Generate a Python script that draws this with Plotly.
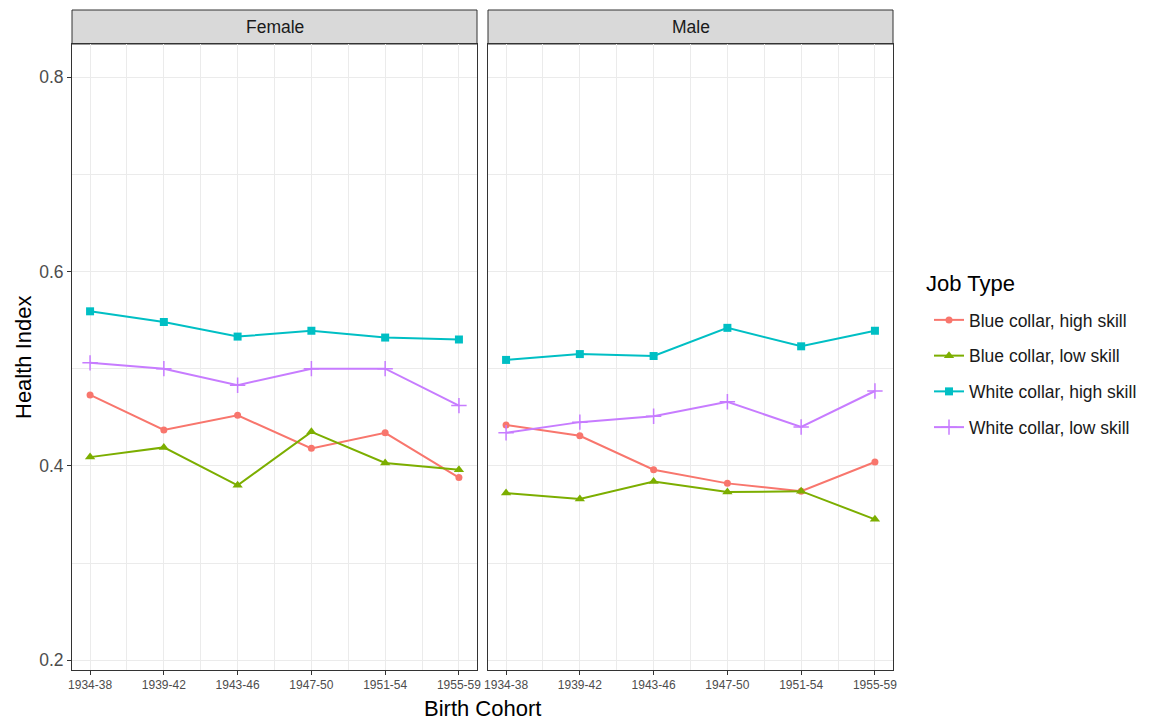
import plotly.graph_objects as go

cohorts = ["1934-38", "1939-42", "1943-46", "1947-50", "1951-54", "1955-59"]
panels = ["Female", "Male"]
series_names = ["Blue collar, high skill", "Blue collar, low skill",
                "White collar, high skill", "White collar, low skill"]

female_blue_high = [0.473, 0.437, 0.452, 0.418, 0.434, 0.388]
female_blue_low = [0.409, 0.419, 0.380, 0.435, 0.403, 0.396]
female_white_high = [0.559, 0.548, 0.533, 0.539, 0.532, 0.530]
female_white_low = [0.506, 0.500, 0.483, 0.500, 0.500, 0.462]

male_blue_high = [0.442, 0.431, 0.396, 0.382, 0.374, 0.404]
male_blue_low = [0.372, 0.366, 0.384, 0.373, 0.374, 0.345]
male_white_high = [0.509, 0.515, 0.513, 0.542, 0.523, 0.539]
male_white_low = [0.434, 0.445, 0.451, 0.466, 0.440, 0.477]

colors = ["#F8766D", "#7CAE00", "#00BFC4", "#C77CFF"]
symbols = ["circle", "triangle-up", "square", "cross-thin"]
sizes = [7, 9, 8, 11]

data = {
    "Female": [female_blue_high, female_blue_low, female_white_high, female_white_low],
    "Male": [male_blue_high, male_blue_low, male_white_high, male_white_low],
}

FONT = "Liberation Sans, Arial"
xpos = list(range(1, len(cohorts) + 1))
fig = go.Figure()
for pi, panel in enumerate(panels):
    xa = "x" if pi == 0 else "x2"
    ya = "y" if pi == 0 else "y2"
    for si, name in enumerate(series_names):
        fig.add_trace(go.Scatter(
            x=xpos, y=data[panel][si], mode="lines+markers", name=name,
            legendgroup=name, showlegend=(pi == 0),
            xaxis=xa, yaxis=ya,
            line=dict(color=colors[si], width=2),
            marker=dict(symbol=symbols[si], size=sizes[si], color=colors[si],
                        line=dict(color=colors[si], width=1.5 if symbols[si] == "cross-thin" else 0)),
        ))

# page body has an 8px margin, so the figure is 8px smaller
W, H = 1143, 713
ml, mr, mt, mb = 64, 258, 2, 51
pw = W - ml - mr
ph = H - mt - mb
strip_h = 34
ytop = (ph - strip_h) / ph
d1 = [0, 405 / pw]
d2 = [416 / pw, 1]

grid = "#ebebeb"
xcommon = dict(range=[0.755, 6.245], tickmode="array", tickvals=xpos, ticktext=cohorts,
               showgrid=True, gridcolor=grid, gridwidth=1.1, zeroline=False,
               showline=True, linecolor="#333333", linewidth=1, mirror=True,
               ticks="outside", ticklen=4, tickcolor="#333333",
               tickfont=dict(family=FONT, size=12, color="#4d4d4d"),
               minor=dict(tickvals=[1.5, 2.5, 3.5, 4.5, 5.5], showgrid=True, gridcolor=grid, gridwidth=0.6, ticks=""))
ycommon = dict(range=[0.19, 0.834], tickmode="array", tickvals=[0.2, 0.4, 0.6, 0.8],
               ticktext=["0.2", "0.4", "0.6", "0.8"],
               showgrid=True, gridcolor=grid, gridwidth=1.1, zeroline=False,
               showline=True, linecolor="#333333", linewidth=1, mirror=True,
               ticklen=4, tickcolor="#333333",
               tickfont=dict(family=FONT, size=17.5, color="#4d4d4d"),
               minor=dict(tickvals=[0.3, 0.5, 0.7], showgrid=True, gridcolor=grid, gridwidth=0.6, ticks=""),
               domain=[0, ytop])

fig.update_layout(
    width=W, height=H,
    margin=dict(l=ml, r=mr, t=mt, b=mb),
    paper_bgcolor="white", plot_bgcolor="white",
    font=dict(family=FONT, color="#1a1a1a"),
    xaxis=dict(domain=d1, anchor="y", **xcommon),
    xaxis2=dict(domain=d2, anchor="y2", **xcommon),
    yaxis=dict(anchor="x", ticks="outside", **ycommon),
    yaxis2=dict(anchor="x2", matches="y", showticklabels=False, ticks="", **ycommon),
    legend=dict(x=(929 - 72) / 821, y=(670 - 302) / 660, xanchor="left", yanchor="top",
                font=dict(family=FONT, size=17.5, color="#1a1a1a"), tracegroupgap=10,
                itemwidth=30, bgcolor="rgba(0,0,0,0)"),
    showlegend=True,
)

shapes = []
annotations = []
for pi, (panel, dom) in enumerate(zip(panels, [d1, d2])):
    shapes.append(dict(type="rect", xref="paper", yref="paper", x0=dom[0], x1=dom[1],
                       y0=ytop, y1=1, fillcolor="#d9d9d9", line=dict(color="#333333", width=1), layer="below"))
    annotations.append(dict(text=panel, xref="paper", yref="paper", x=(dom[0] + dom[1]) / 2,
                            y=(ytop + 1) / 2, showarrow=False, xanchor="center", yanchor="middle",
                            font=dict(family=FONT, size=17.5, color="#1a1a1a")))
annotations.append(dict(text="Birth Cohort", xref="paper", yref="paper", x=0.5, y=0,
                        yshift=-24, showarrow=False, xanchor="center", yanchor="top",
                        font=dict(family=FONT, size=22, color="#000000")))
annotations.append(dict(text="Health Index", xref="paper", yref="paper", x=0, xshift=-49,
                        y=ytop / 2, showarrow=False, textangle=-90, xanchor="center", yanchor="middle",
                        font=dict(family=FONT, size=22, color="#000000")))
annotations.append(dict(text="Job Type", xref="paper", yref="paper", x=(924 - 72) / 821, y=(670 - 283) / 660,
                        showarrow=False, xanchor="left", yanchor="middle",
                        font=dict(family=FONT, size=22, color="#000000")))
fig.update_layout(shapes=shapes, annotations=annotations)

fig.write_html("out.html")
